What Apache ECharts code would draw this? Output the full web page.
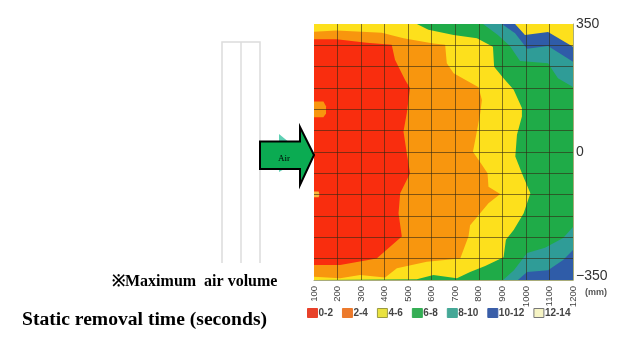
<!DOCTYPE html>
<html>
<head>
<meta charset="utf-8">
<title>Static removal time</title>
<style>html,body{margin:0;padding:0;background:#fff}#chart{width:640px;height:354px}</style>
<script src="https://cdn.jsdelivr.net/npm/echarts@6/dist/echarts.min.js"></script>
</head>
<body>
<div id="chart"></div>
<script>
// contour bands, [mm along the panel, mm across]
var greenBand = [
  [[100, 350], [1200, 350], [1200, -350], [100, -350]]
];
var yellowBand = [
  [[100, 350], [537, 350], [586, 334], [693, 320], [792, 311], [860, 288], [865, 233], [905, 202],
   [948, 170], [983, 120], [983, 97], [962, 47], [955, -12], [983, -58], [1019, -113], [990, -168],
   [948, -213], [915, -240], [905, -288], [827, -312], [763, -328], [707, -345], [607, -336], [537, -348], [100, -350]]
];
var orangeBand = [
  [[100, 329], [196, 332], [388, 326], [480, 311], [607, 297], [657, 293], [664, 243], [693, 215],
   [799, 177], [813, 142], [806, 106], [789, 47], [775, 1], [813, -35], [837, -58], [841, -95],
   [891, -115], [841, -140], [763, -200], [756, -231], [721, -291], [579, -300], [452, -318],
   [402, -343], [296, -336], [211, -345], [100, -341]]
];
var redBand = [
  [[100, 308], [196, 308], [324, 299], [430, 293], [444, 252], [487, 197], [508, 174], [494, 106],
   [480, 56], [494, -3], [508, -58], [466, -113], [459, -168], [473, -231], [423, -259], [366, -291],
   [211, -309], [100, -309]]
];
var redSpots = [
  [[100, 138], [140, 138], [151, 125], [151, 105], [140, 95], [100, 95]],
  [[100, -108], [120, -108], [123, -116], [120, -124], [100, -124]]
];
var tealBand = [
  [[818, 350], [881, 320], [932, 290], [975, 249], [1094, 243], [1136, 202], [1200, 178], [1200, 350]],
  [[903, -350], [949, -323], [1005, -276], [1081, -262], [1158, -235], [1200, -205], [1200, -350]]
];
var blueBand = [
  [[898, 350], [954, 325], [1005, 282], [1094, 290], [1200, 247], [1200, 350]],
  [[966, -350], [1005, -328], [1094, -323], [1158, -295], [1200, -268], [1200, -350]]
];
var paleBand = [
  [[954, 350], [996, 320], [1094, 328], [1200, 288], [1200, 350]]
];

var bandNames = ['0-2', '2-4', '4-6', '6-8', '8-10', '10-12', '12-14'];
var bandShapes = [redBand, orangeBand, yellowBand, greenBand, tealBand, blueBand, paleBand];
var bandColors = ['#f92d0e', '#f8960e', '#fde01c', '#1fab48', '#2f9c97', '#2f5ca8', '#fde01c'];
var swatchColors = ['#e8412a', '#ec7a2c', '#e9e23f', '#35ae55', '#45a897', '#3a5ea8', '#f6f4c4'];
var swatchBorders = ['#e8412a', '#ec7a2c', '#9a9a40', '#35ae55', '#45a897', '#3a5ea8', '#777'];
// painted from the outside in, red and orange have to end up on top of yellow
var bandZ = [6, 5, 4, 3, 7, 8, 9];

var yTickLabels = ['350', '0', '\u2212350'];

var chart = echarts.init(document.getElementById('chart'));

function polygonSeries(name, shapes, z, fillOf) {
  return {
    name: name,
    type: 'custom',
    coordinateSystem: 'cartesian2d',
    z: z,
    silent: true,
    data: shapes.map(function (p, k) { return [k]; }),
    renderItem: function (params, api) {
      return {
        type: 'polygon',
        shape: { points: shapes[params.dataIndex].map(function (p) { return api.coord(p); }) },
        style: { fill: fillOf(params.dataIndex) }
      };
    }
  };
}

var series = bandNames.map(function (name, i) {
  var s = polygonSeries(name, bandShapes[i], bandZ[i], function () { return bandColors[i]; });
  s.itemStyle = { color: bandColors[i] };
  return s;
});

// small spots over the red band
series.push(polygonSeries('spots', redSpots, 7, function (k) { return k === 0 ? '#f8960e' : '#f9b53a'; }));

var gridLine = { show: true, showMinLine: false, showMaxLine: false, lineStyle: { color: 'rgba(50,40,20,0.6)', width: 1 } };

var option = {
  animation: false,
  backgroundColor: '#fff',
  grid: { left: 314, top: 24, width: 259, height: 256 },
  xAxis: {
    type: 'value',
    min: 100,
    max: 1200,
    interval: 100,
    z: 12,
    axisLine: { show: true, onZero: false, lineStyle: { color: '#a9ac7a', width: 1 } },
    axisTick: { show: false },
    axisLabel: {
      rotate: 90,
      margin: 6,
      fontSize: 9.5,
      fontFamily: '"Liberation Sans Narrow", "Liberation Sans", sans-serif',
      color: '#444',
      formatter: function (v) { return String(v); }
    },
    splitLine: gridLine
  },
  yAxis: {
    type: 'value',
    position: 'right',
    min: -350,
    max: 350,
    interval: 350 / 6,
    z: 12,
    axisLine: { show: true, onZero: false, lineStyle: { color: '#a9ac7a', width: 1 } },
    axisTick: { show: false },
    axisLabel: {
      margin: 3,
      fontSize: 14,
      fontFamily: '"Liberation Sans", Arial, sans-serif',
      color: '#333',
      rich: { low: { fontSize: 14, color: '#333', padding: [0, 0, 8, 0] } },
      formatter: function (v) {
        var r = Math.round(v);
        if (r === 350) return yTickLabels[0];
        if (r === 0) return yTickLabels[1];
        if (r === -350) return '{low|' + yTickLabels[2] + '}';
        return '';
      }
    },
    splitLine: gridLine
  },
  legend: {
    left: 307,
    top: 308,
    padding: 0,
    itemWidth: 10,
    itemHeight: 9,
    itemGap: 9,
    selectedMode: false,
    textStyle: {
      fontSize: 10,
      color: '#444',
      fontFamily: '"Liberation Sans Narrow", "Liberation Sans", sans-serif',
      fontWeight: 'bold',
      padding: [0, 0, 0, -4]
    },
    data: bandNames.map(function (name, i) {
      return {
        name: name,
        icon: 'rect',
        itemStyle: { color: swatchColors[i], borderColor: swatchBorders[i], borderWidth: 1 }
      };
    })
  },
  graphic: [
    // panel outline on the left
    { type: 'polyline', z: 1, shape: { points: [[222, 263], [222, 42], [260, 42], [260, 263]] }, style: { fill: null, stroke: '#dcdcdc', lineWidth: 1.5 } },
    { type: 'line', z: 1, shape: { x1: 241, y1: 42, x2: 241, y2: 263 }, style: { stroke: '#dcdcdc', lineWidth: 1.5 } },
    // bit of teal sticking out behind the arrow
    { type: 'polygon', z: 20, shape: { points: [[279, 134], [290, 143], [279, 143]] }, style: { fill: '#5fd0b4' } },
    { type: 'polygon', z: 20, shape: { points: [[279, 168], [286, 168], [279, 172]] }, style: { fill: '#5fd0b4' } },
    // air arrow
    { type: 'polygon', z: 21, shape: { points: [[260, 141.5], [300, 141.5], [300, 127], [314, 155], [300, 185], [300, 169], [260, 169]] }, style: { fill: '#0bab52', stroke: '#000', lineWidth: 2 } },
    { type: 'text', z: 22, style: { x: 284, y: 158.5, text: 'Air', align: 'center', verticalAlign: 'middle', fontSize: 9, fontFamily: '"Liberation Serif", serif', fill: '#000' } },
    { type: 'text', z: 22, style: { x: 112, y: 282, text: '\u203BMaximum  air volume', verticalAlign: 'middle', fontSize: 16, fontWeight: 'bold', fontFamily: '"Liberation Serif", serif', fill: '#000' } },
    { type: 'text', z: 22, style: { x: 22, y: 320, text: 'Static removal time (seconds)', verticalAlign: 'middle', fontSize: 19.6, fontWeight: 'bold', fontFamily: '"Liberation Serif", serif', fill: '#000' } },
    { type: 'text', z: 22, style: { x: 585, y: 293, text: '(mm)', verticalAlign: 'middle', fontSize: 9, fontWeight: 'bold', fontFamily: '"Liberation Sans", sans-serif', fill: '#555' } }
  ],
  series: series
};

chart.setOption(option);
</script>
</body>
</html>
